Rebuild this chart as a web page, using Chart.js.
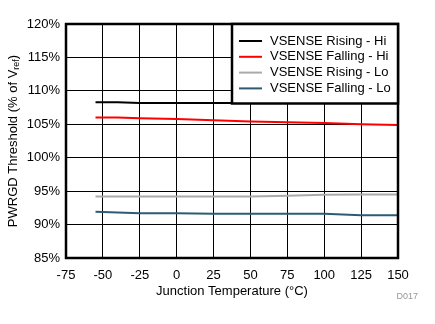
<!DOCTYPE html>
<html><head><meta charset="utf-8">
<script src="https://cdn.jsdelivr.net/npm/chart.js@4"></script>
<style>html,body{margin:0;padding:0;background:#fff}#wrap{width:435px;height:324px}</style>
</head><body><div id="wrap"><canvas id="c" width="435" height="324"></canvas></div>
<script>
const temps = [-55, -40, -25, 0, 25, 50, 75, 100, 125, 150];
const risingHi  = [108.3, 108.3, 108.2, 108.2, 108.2, 108.2, 108.2, 108.2, 108.2, 108.2];
const fallingHi = [106.0, 106.0, 105.9, 105.8, 105.6, 105.4, 105.3, 105.2, 105.0, 104.9];
const risingLo  = [94.2, 94.2, 94.2, 94.2, 94.2, 94.2, 94.3, 94.45, 94.5, 94.5];
const fallingLo = [91.9, 91.8, 91.7, 91.7, 91.6, 91.6, 91.6, 91.6, 91.4, 91.4];
const seriesNames = ['VSENSE Rising - Hi', 'VSENSE Falling - Hi', 'VSENSE Rising - Lo', 'VSENSE Falling - Lo'];
const seriesColors = ['#000000', '#ff0000', '#aaaaaa', '#2b5c74'];
const xTicks = [-75, -50, -25, 0, 25, 50, 75, 100, 125, 150];
const yTicks = [85, 90, 95, 100, 105, 110, 115, 120];
const xTitle = 'Junction Temperature (°C)';
const yTitleMain = 'PWRGD Threshold (% of V';
const yTitleSub = 'ref';
const yTitleEnd = ')';
const note = 'D017';

const FONT = '"Liberation Sans", Arial, sans-serif';
const series = [risingHi, fallingHi, risingLo, fallingLo];

const overlay = {
  id: 'overlay',
  afterDatasetsDraw(chart) {
    const ctx = chart.ctx, a = chart.chartArea;
    ctx.save();
    // frame
    ctx.strokeStyle = '#000'; ctx.lineWidth = 2.5;
    ctx.strokeRect(a.left, a.top, a.right - a.left, a.bottom - a.top);
    // legend box
    const lx = 232, ly = a.top, lw = a.right - 232, lh = 79.5;
    ctx.fillStyle = '#fff';
    ctx.fillRect(lx, ly, lw, lh);
    ctx.lineWidth = 2.5;
    ctx.strokeRect(lx, ly, lw, lh);
    ctx.font = '13px ' + FONT;
    ctx.textBaseline = 'middle';
    ctx.textAlign = 'left';
    chart.data.datasets.forEach((ds, i) => {
      const y = 41 + i * 15.8;
      ctx.strokeStyle = ds.borderColor; ctx.lineWidth = 2;
      ctx.beginPath(); ctx.moveTo(239, y); ctx.lineTo(262, y); ctx.stroke();
      ctx.fillStyle = '#000';
      ctx.fillText(ds.label, 270, y);
    });
    // x title
    ctx.textAlign = 'center';
    ctx.fillText(xTitle, (a.left + a.right) / 2, 291);
    // note
    ctx.font = '9px ' + FONT;
    ctx.fillStyle = '#999';
    ctx.textAlign = 'right';
    ctx.fillText(note, 418, 297);
    // y title with subscript
    ctx.save();
    ctx.translate(13, (a.top + a.bottom) / 2);
    ctx.rotate(-Math.PI / 2);
    ctx.fillStyle = '#000';
    ctx.font = '13px ' + FONT;
    const w1 = ctx.measureText(yTitleMain).width;
    ctx.font = '9px ' + FONT;
    const w2 = ctx.measureText(yTitleSub).width;
    ctx.font = '13px ' + FONT;
    const w3 = ctx.measureText(yTitleEnd).width;
    let x0 = -(w1 + w2 + w3) / 2;
    ctx.textAlign = 'left';
    ctx.fillText(yTitleMain, x0, 0);
    ctx.font = '9px ' + FONT;
    ctx.fillText(yTitleSub, x0 + w1, 4);
    ctx.font = '13px ' + FONT;
    ctx.fillText(yTitleEnd, x0 + w1 + w2, 0);
    ctx.restore();
    ctx.restore();
  }
};

new Chart(document.getElementById('c'), {
  type: 'line',
  data: {
    datasets: series.map((s, i) => ({
      label: seriesNames[i],
      data: temps.map((t, j) => ({ x: t, y: s[j] })),
      borderColor: seriesColors[i],
      backgroundColor: seriesColors[i],
      borderWidth: 2,
      pointRadius: 0,
      tension: 0,
      fill: false
    }))
  },
  options: {
    responsive: false,
    animation: false,
    devicePixelRatio: 1,
    layout: { padding: { top: 24, right: 37, left: 0, bottom: 0 } },
    plugins: { legend: { display: false }, tooltip: { enabled: false } },
    scales: {
      x: {
        type: 'linear', min: -75, max: 150,
        afterBuildTicks: (s) => { s.ticks = xTicks.map(v => ({ value: v })); },
        afterFit: (s) => { s.height = 66; },
        grid: { color: '#000', lineWidth: 1, drawTicks: false },
        border: { display: false },
        ticks: { color: '#000', font: { family: FONT, size: 13 }, padding: 10, maxRotation: 0 }
      },
      y: {
        type: 'linear', min: 85, max: 120,
        afterBuildTicks: (s) => { s.ticks = yTicks.map(v => ({ value: v })); },
        afterFit: (s) => { s.width = 66; },
        grid: { color: '#000', lineWidth: 1, drawTicks: false },
        border: { display: false },
        ticks: { color: '#000', font: { family: FONT, size: 13 }, padding: 6, callback: v => v + '%' }
      }
    }
  },
  plugins: [overlay]
});
</script></body></html>
